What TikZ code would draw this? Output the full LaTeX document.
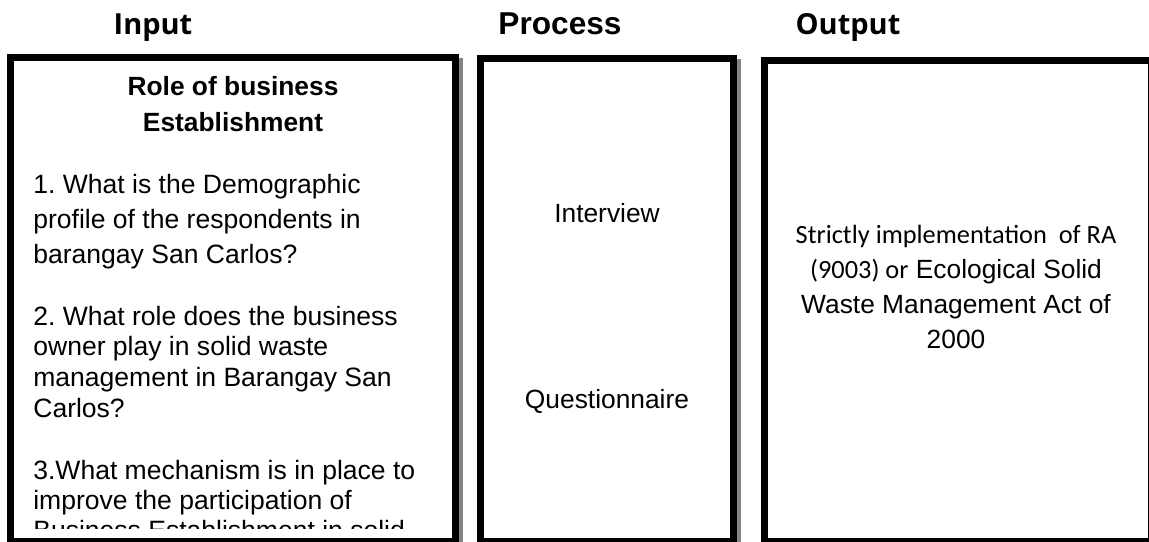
\documentclass[tikz,border=0pt]{standalone}
\usepackage{fontspec}
\setmainfont{Liberation Sans}
\newfontfamily\calibri{Carlito}
\newfontfamily\headfont{Open Sans}
\frenchspacing

\begin{document}
\begin{tikzpicture}[x=0.02cm,y=-0.02cm,
  frame/.style={draw=black,fill=white,line width=0.14cm,line join=miter},
  shadowbox/.style={fill=black!48,draw=none},
  head/.style={font=\headfont\bfseries\fontsize{16.5}{20}\selectfont,anchor=base,inner sep=0pt},
  para/.style={font=\fontsize{15.1}{#1}\selectfont,align=left,anchor=base west,inner sep=0pt},
  mid/.style={font=\fontsize{15}{20}\selectfont,align=center,anchor=base,inner sep=0pt}]
  \useasboundingbox (0,0) rectangle (1149,541);
  \clip (0,0) rectangle (1149,541);
  % headings
  \node[head] (input) at (153,34) {Input};
  \node[head,font=\bfseries\fontsize{18}{20}\selectfont] (process) at (560,34) {Process};
  \node[head] (output) at (848,34) {Output};
  % boxes
  \fill[shadowbox] (11,58) rectangle (463,549);
  \draw[frame] (10.5,57.5) rectangle (455.5,541.5);
  \fill[shadowbox] (481,59) rectangle (741,549);
  \draw[frame] (480.5,58.5) rectangle (733.5,541.5);
  \draw[frame] (764.5,60.5) rectangle (1151.5,541.5);
  % input box (base = last line)
  \node[mid,font=\bfseries\fontsize{15}{20.4}\selectfont] (role) at (233,131) {Role of business\\Establishment};
  \begin{scope}
    \clip (14,61) rectangle (452,528);
    \node[para=19.8] (q1) at (33,263) {1. What is the Demographic\\profile of the respondents in\\barangay San Carlos?};
    \node[para=17.4] (q2) at (33,417) {2. What role does the business\\owner play in solid waste\\management in Barangay San\\Carlos?};
    \node[para=17] (q3) at (33,539) {3.What mechanism is in place to\\improve the participation of\\Business Establishment in solid};
  \end{scope}
  % process box
  \node[mid] (interview) at (607,222) {Interview};
  \node[mid] (quest) at (607,408) {Questionnaire};
  % output box
  \node[mid,font=\fontsize{15}{19.8}\selectfont] (act) at (956,348) {{\calibri Strictly implementation~ of RA}\\{\calibri (9003) or} Ecological Solid\\Waste Management Act of\\2000};
\end{tikzpicture}
\end{document}
